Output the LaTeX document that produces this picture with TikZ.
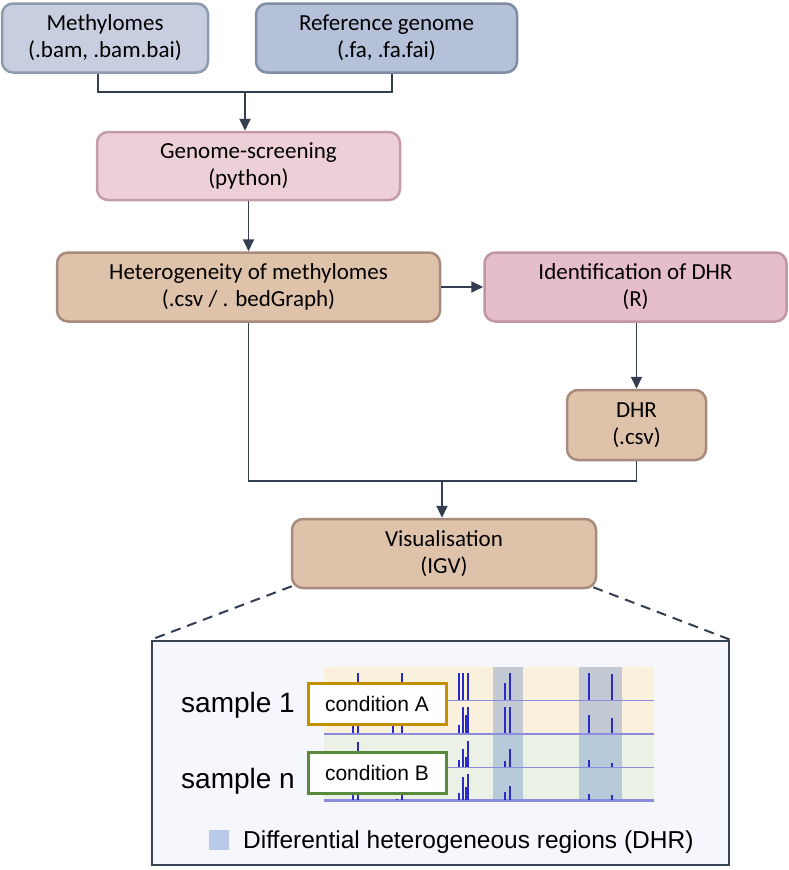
\documentclass[tikz,border=0pt]{standalone}
\usepackage{fontspec}
\setmainfont{Carlito}
\newfontfamily\arialf{Liberation Sans}
\usetikzlibrary{arrows.meta}
\definecolor{methfill}{HTML}{C6CEE0}
\definecolor{methdraw}{HTML}{8E9AAE}
\definecolor{reffill}{HTML}{B5C0D9}
\definecolor{refdraw}{HTML}{7F8CA3}
\definecolor{gsfill}{HTML}{EDCFD8}
\definecolor{gsdraw}{HTML}{C49CA8}
\definecolor{idfill}{HTML}{E6BDCA}
\definecolor{iddraw}{HTML}{C096A3}
\definecolor{tanfill}{HTML}{DFC2AA}
\definecolor{tandraw}{HTML}{A98B7D}
\definecolor{connc}{HTML}{333F51}
\definecolor{panelfill}{HTML}{F6F7FC}
\definecolor{paneldraw}{HTML}{384354}
\definecolor{yel}{HTML}{FAF1DC}
\definecolor{grn}{HTML}{EBF1E4}
\definecolor{hltop}{HTML}{C3CAD4}
\definecolor{hlbot}{HTML}{B6CADA}
\definecolor{trackline}{HTML}{8C8CDE}
\definecolor{spikec}{HTML}{2A2AC4}
\definecolor{condA}{HTML}{C39000}
\definecolor{condB}{HTML}{588A3B}
\definecolor{legsq}{HTML}{B9CAEA}
\tikzset{
  flowbox/.style={rounded corners=11pt, line width=2.5pt, minimum height=69pt,
    align=center, font=\fontsize{23}{27}\selectfont, inner sep=0pt},
  conn/.style={line width=1.8pt, draw=connc},
  arr/.style={conn, -{Triangle[length=12pt,width=11pt]}},
  spk/.style={draw=spikec, line width=1.3pt},
  condbox/.style={fill=white, line width=3pt, minimum width=138pt, minimum height=41pt,
    inner sep=0pt, font=\arialf\fontsize{21}{24}\selectfont},
  samplelbl/.style={anchor=base, font=\arialf\fontsize{28}{30}\selectfont},
}
\begin{document}
\begin{tikzpicture}[x=1pt,y=-1pt]
\fill[white] (0,0) rectangle (789,870);
\useasboundingbox (0,0) rectangle (789,870);

% flow boxes
\node[flowbox, fill=methfill, draw=methdraw, minimum width=206pt] (meth) at (105,38) {Methylomes\\(.bam, .bam.bai)};
\node[flowbox, fill=reffill, draw=refdraw, minimum width=261pt] (ref) at (386.5,38) {Reference genome\\(.fa, .fa.fai)};
\node[flowbox, fill=gsfill, draw=gsdraw, minimum width=303pt, minimum height=68pt] (gs) at (248.5,166) {Genome-screening\\(python)};
\node[flowbox, fill=tanfill, draw=tandraw, minimum width=383pt] (het) at (248.5,287) {Heterogeneity of methylomes\\(.csv / . bedGraph)};
\node[flowbox, fill=idfill, draw=iddraw, minimum width=302pt] (idr) at (635.5,287) {Identification of DHR\\(R)};
\node[flowbox, fill=tanfill, draw=tandraw, minimum width=139pt, minimum height=70pt] (dhr) at (636.5,425) {DHR\\(.csv)};
\node[flowbox, fill=tanfill, draw=tandraw, minimum width=304pt] (vis) at (444,553.5) {Visualisation\\(IGV)};

% connectors
\coordinate (mb) at ([xshift=-7pt]meth.south);
\coordinate (rb) at ([xshift=5.5pt]ref.south);
\coordinate (j1) at (245,92);
\draw[conn] (mb) |- (j1) -| (rb);
\draw[arr] (j1) -- (j1 |- gs.north);
\draw[arr] (gs) -- (het);
\draw[arr] (het) -- (idr);
\draw[arr] (idr.south -| dhr.north) -- (dhr.north);
\coordinate (j2) at (442,481);
\draw[conn] (het.south) |- (j2) -| (dhr.south);
\draw[arr] (j2) -- (j2 |- vis.north);

% panel
\node[draw=paneldraw, fill=panelfill, line width=2.5pt, minimum width=577pt, minimum height=224pt, inner sep=0pt] (panel) at (440.5,753) {};
\draw[conn, line width=2pt, dash pattern=on 10pt off 7pt] ([xshift=1pt,yshift=3pt]vis.south west) -- (panel.north west);
\draw[conn, line width=2pt, dash pattern=on 10pt off 7pt] ([xshift=-4pt,yshift=2pt]vis.south east) -- (panel.north east);

% tracks
\fill[yel] (324,667) rectangle (654,734);
\fill[grn] (324,734) rectangle (654,800);
\fill[hltop] (493,667) rectangle (523,734);
\fill[hlbot] (493,734) rectangle (523,799);
\fill[hltop] (579,667) rectangle (622,734);
\fill[hlbot] (579,734) rectangle (622,799);
\draw[trackline, line width=0.8pt] (324,700) -- (654,700);
\draw[trackline, line width=2pt] (324,733.5) -- (654,733.5);
\draw[trackline, line width=0.8pt] (324,767) -- (654,767);
\draw[trackline, line width=2.2pt] (324,800.5) -- (654,800.5);
\foreach \x/\t in {358/673, 402/673, 459/673, 463/673, 468/673, 505/683, 510/673, 589/673, 612/674}
  \draw[spk] (\x,\t) -- (\x,700);
\foreach \x/\t in {353/722, 358/720, 393/722, 402/720, 459/725, 463/707, 466/715, 467/715, 468/707, 505/707, 510/707, 589/715, 612/718}
  \draw[spk] (\x,\t) -- (\x,733);
\foreach \x/\t in {358/742, 459/760, 463/749, 466/757, 467/757, 468/741, 505/761, 510/749, 589/760, 612/763}
  \draw[spk] (\x,\t) -- (\x,767);
\foreach \x/\t in {353/793, 358/793, 397/799, 402/793, 459/793, 463/777, 466/787, 467/787, 468/774, 505/792, 510/786, 589/794, 612/795}
  \draw[spk] (\x,\t) -- (\x,800);

\node[condbox, draw=condA] (ca) at (377,704) {condition A};
\node[condbox, draw=condB] (cb) at (377,772.5) {condition B};
\node[samplelbl] (s1) at (238,712) {sample 1};
\node[samplelbl] (sn) at (238,788) {sample n};

% legend
\node[fill=legsq, minimum size=20pt, inner sep=0pt] (lg) at (219,839.5) {};
\node[anchor=base west, inner sep=0pt, font=\arialf\fontsize{24.5}{28}\selectfont] (lt) at (243,848) {Differential heterogeneous regions (DHR)};
\end{tikzpicture}
\end{document}
